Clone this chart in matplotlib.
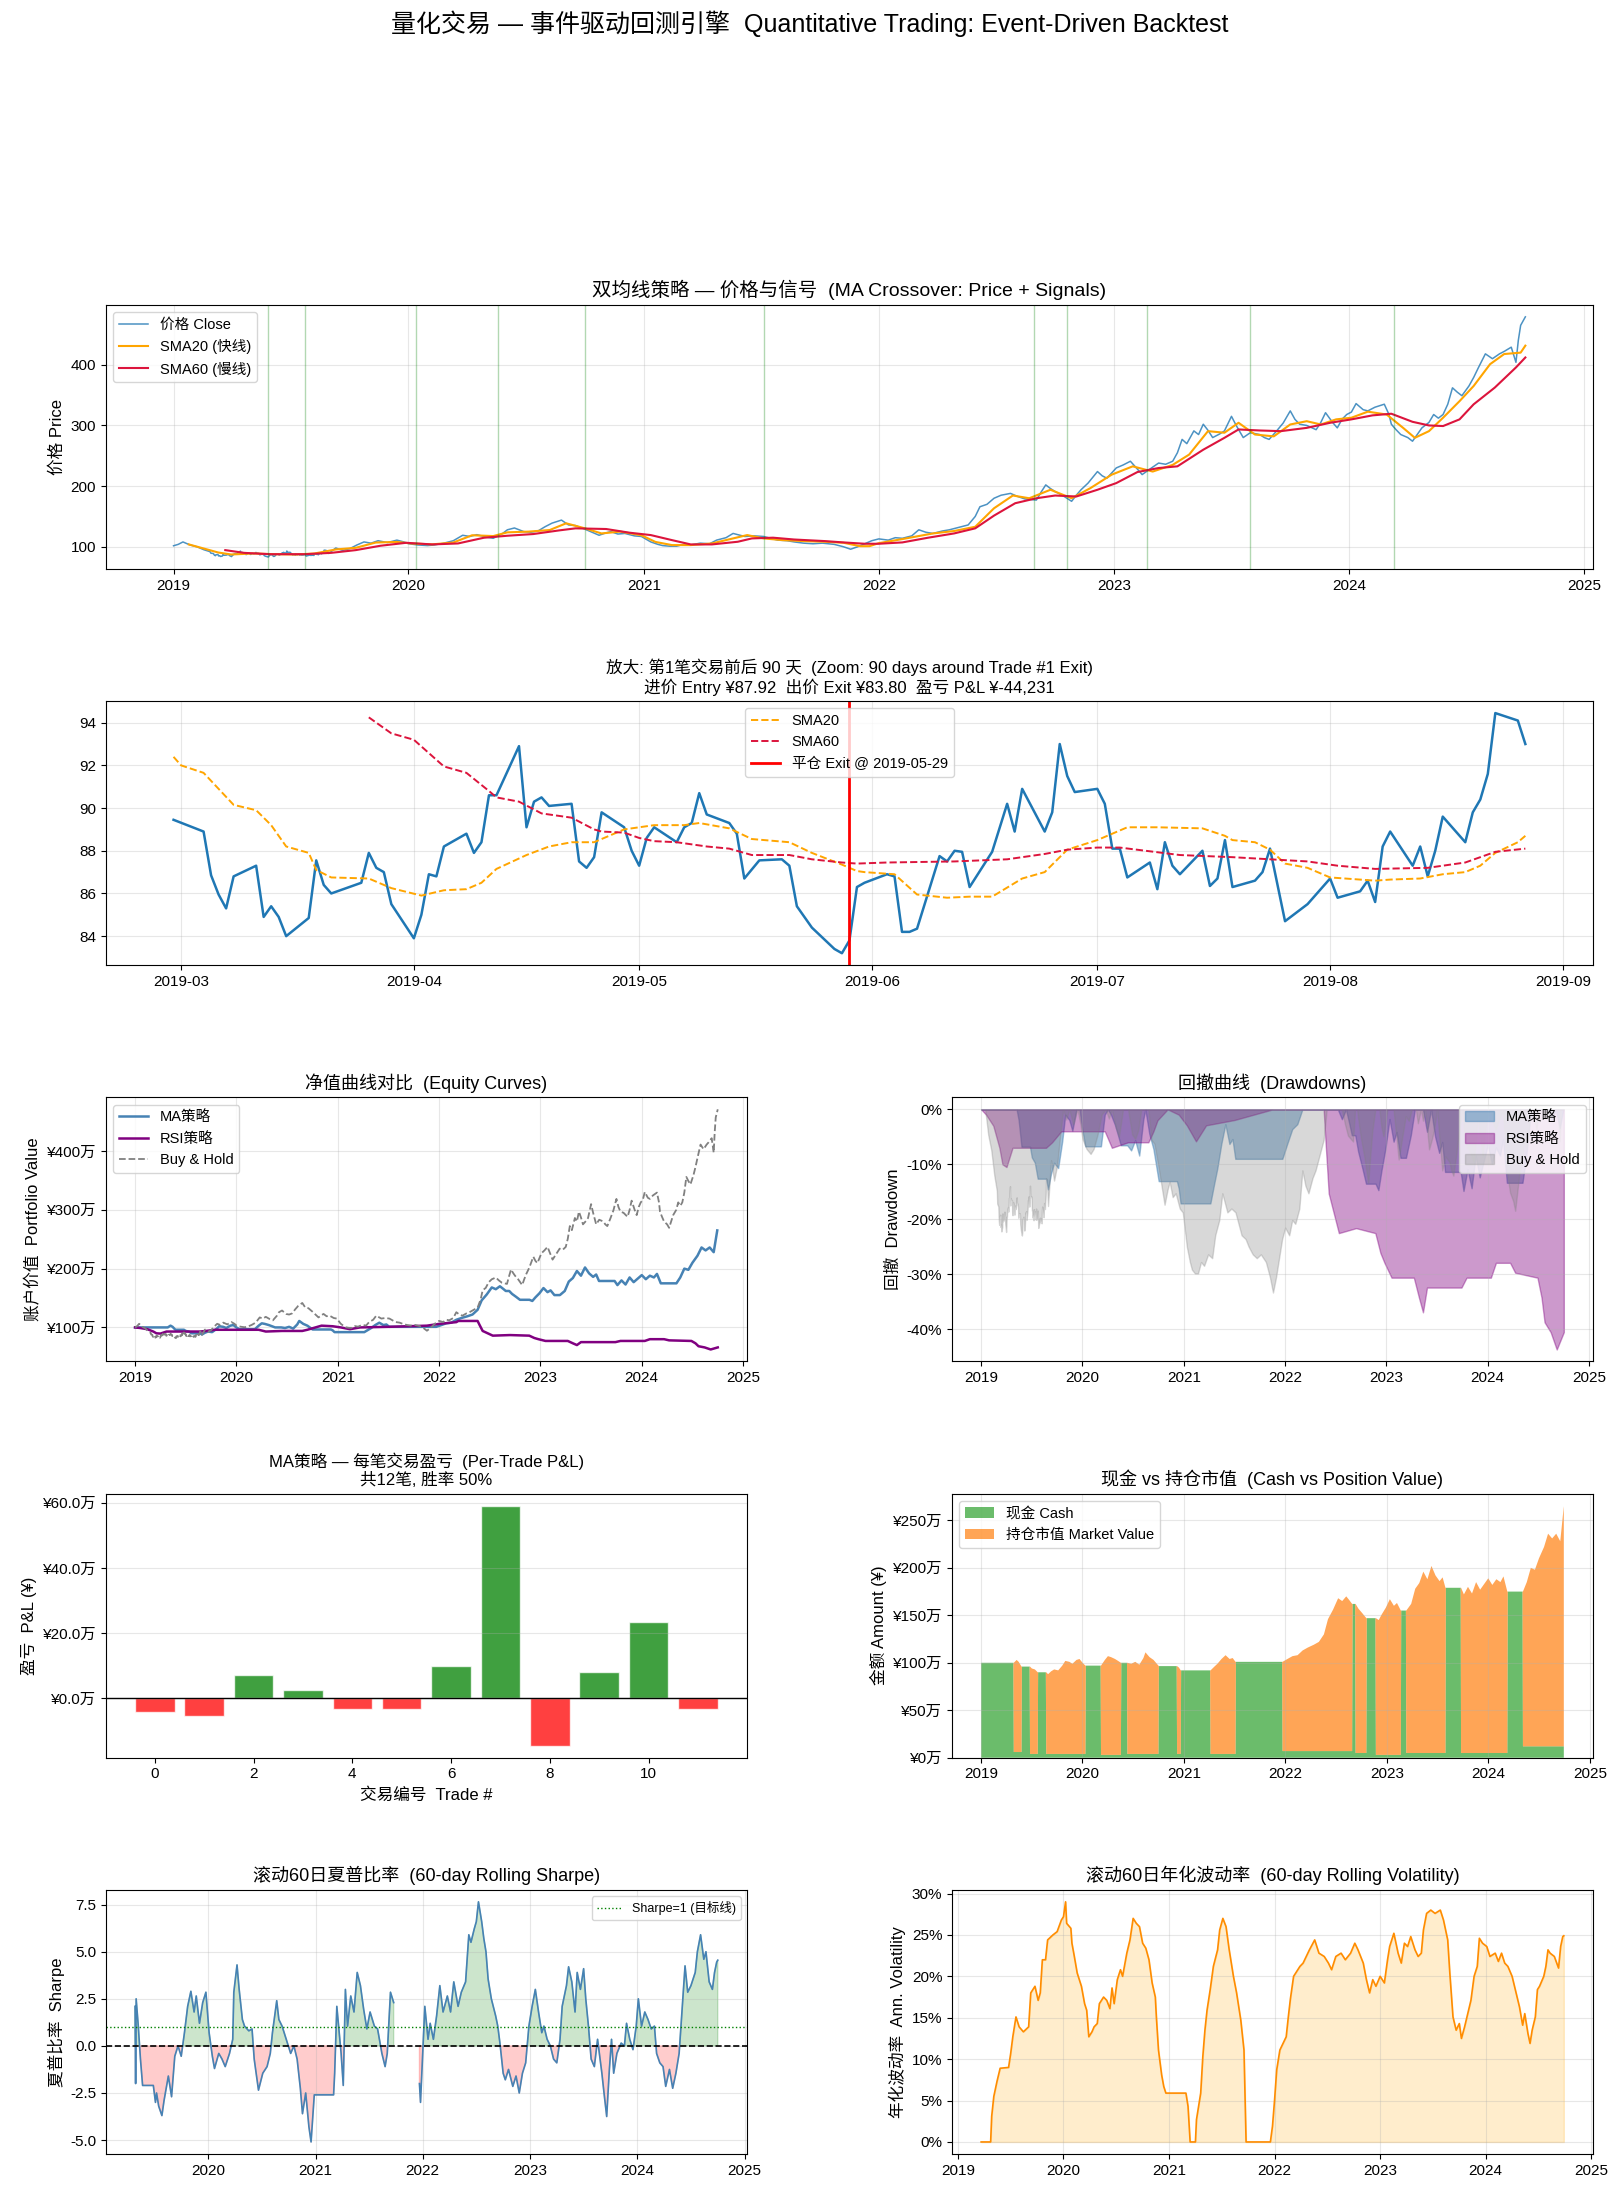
import numpy as np
import pandas as pd
import matplotlib
matplotlib.use('Agg')
import matplotlib.pyplot as plt
import matplotlib.dates as mdates
from matplotlib.ticker import FuncFormatter, MultipleLocator

plt.rcParams['font.family'] = ['Liberation Sans', 'Noto Sans CJK SC']
plt.rcParams['axes.unicode_minus'] = False

# ---------------- data ----------------
# coarse close prices, decimal years (outside the daily zoom window)
price_t = [2019.00, 2019.02, 2019.04, 2019.07, 2019.10, 2019.13, 2019.155,
           2019.66, 2019.69, 2019.72, 2019.75, 2019.78, 2019.81, 2019.84, 2019.87, 2019.91, 2019.95, 2019.98,
           2020.00, 2020.04, 2020.08, 2020.11, 2020.15, 2020.19, 2020.23, 2020.26, 2020.29, 2020.33, 2020.36,
           2020.40, 2020.42, 2020.45, 2020.49, 2020.52, 2020.55, 2020.58, 2020.61, 2020.65, 2020.68, 2020.71,
           2020.75, 2020.78, 2020.81, 2020.84, 2020.86, 2020.89, 2020.92, 2020.96, 2020.99,
           2021.03, 2021.06, 2021.08, 2021.11, 2021.14, 2021.17, 2021.20, 2021.24, 2021.28, 2021.31, 2021.35,
           2021.38, 2021.41, 2021.43, 2021.47, 2021.51, 2021.54, 2021.57, 2021.61, 2021.64, 2021.68, 2021.72,
           2021.76, 2021.81, 2021.85, 2021.88, 2021.91, 2021.94, 2021.97,
           2022.00, 2022.04, 2022.07, 2022.10, 2022.14, 2022.17, 2022.20, 2022.23, 2022.27, 2022.30, 2022.32,
           2022.35, 2022.38, 2022.41, 2022.43, 2022.46, 2022.49, 2022.52, 2022.56, 2022.59, 2022.62, 2022.67,
           2022.69, 2022.71, 2022.73, 2022.75, 2022.78, 2022.82, 2022.84, 2022.86, 2022.89, 2022.93, 2022.95,
           2022.97, 2023.01, 2023.04, 2023.07, 2023.10, 2023.12, 2023.16, 2023.19, 2023.22, 2023.25, 2023.27,
           2023.29, 2023.31, 2023.34, 2023.36, 2023.38, 2023.40, 2023.42, 2023.45, 2023.47, 2023.50, 2023.52,
           2023.55, 2023.58, 2023.62, 2023.64, 2023.66, 2023.69, 2023.72, 2023.75, 2023.77, 2023.79, 2023.82,
           2023.86, 2023.88, 2023.90, 2023.93, 2023.95, 2023.97, 2023.99,
           2024.01, 2024.03, 2024.06, 2024.08, 2024.11, 2024.15, 2024.17, 2024.18, 2024.20, 2024.22, 2024.25,
           2024.27, 2024.29, 2024.31, 2024.34, 2024.36, 2024.38, 2024.40, 2024.42, 2024.44, 2024.46, 2024.48,
           2024.51, 2024.53, 2024.55, 2024.58, 2024.61, 2024.64, 2024.66, 2024.69, 2024.71, 2024.72, 2024.73,
           2024.75]
price_v = [101.7, 104, 108, 103, 100, 95, 92,
           89, 98, 94, 97, 103, 108, 106, 110, 107, 111, 108,
           105, 103, 102, 103, 106, 110, 119, 117, 120, 116, 114,
           122, 128, 131, 125, 124, 126, 133, 139, 144, 136, 135,
           129, 124, 119, 123, 125, 121, 122, 118, 117,
           108, 104, 102, 101, 101, 104, 103, 106, 105, 111, 115,
           122, 119, 117, 118, 117, 114, 111, 110, 108, 106, 105,
           106, 104, 100, 96, 100, 105, 110,
           113, 111, 115, 114, 118, 128, 124, 122, 126, 128, 130,
           133, 136, 150, 166, 170, 180, 185, 188, 183, 179, 177,
           190, 202, 196, 191, 185, 175, 185, 194, 205, 224, 217,
           213, 230, 235, 241, 228, 219, 230, 238, 236, 241, 255,
           277, 270, 291, 285, 302, 292, 280, 286, 291, 315, 300,
           280, 288, 285, 280, 277, 290, 304, 324, 310, 302, 300,
           293, 305, 321, 305, 296, 310, 318,
           322, 336, 326, 324, 330, 335, 318, 302, 293, 285, 280,
           274, 285, 296, 305, 318, 312, 318, 335, 362, 355, 349,
           365, 379, 395, 418, 410, 418, 422, 429, 404, 440, 465,
           479]

# daily closes around trade #1 exit (zoom window)
zoom_dates = ['2019-02-28', '2019-03-04', '2019-03-05', '2019-03-06', '2019-03-07', '2019-03-08',
              '2019-03-11', '2019-03-12', '2019-03-13', '2019-03-14', '2019-03-15', '2019-03-18',
              '2019-03-19', '2019-03-20', '2019-03-21', '2019-03-25', '2019-03-26', '2019-03-27',
              '2019-03-28', '2019-03-29', '2019-04-01', '2019-04-02', '2019-04-03', '2019-04-04',
              '2019-04-05', '2019-04-08', '2019-04-09', '2019-04-10', '2019-04-11', '2019-04-12',
              '2019-04-15', '2019-04-16', '2019-04-17', '2019-04-18', '2019-04-19', '2019-04-22',
              '2019-04-23', '2019-04-24', '2019-04-25', '2019-04-26', '2019-04-29', '2019-04-30',
              '2019-05-01', '2019-05-02', '2019-05-03', '2019-05-06', '2019-05-07', '2019-05-08',
              '2019-05-09', '2019-05-10', '2019-05-13', '2019-05-14', '2019-05-15', '2019-05-17',
              '2019-05-20', '2019-05-21', '2019-05-22', '2019-05-23', '2019-05-24', '2019-05-27',
              '2019-05-28', '2019-05-29', '2019-05-30', '2019-05-31', '2019-06-03', '2019-06-04',
              '2019-06-05', '2019-06-06', '2019-06-07', '2019-06-10', '2019-06-11', '2019-06-12',
              '2019-06-13', '2019-06-14', '2019-06-17', '2019-06-19', '2019-06-20', '2019-06-21',
              '2019-06-24', '2019-06-25', '2019-06-26', '2019-06-27', '2019-06-28', '2019-07-01',
              '2019-07-02', '2019-07-03', '2019-07-04', '2019-07-05', '2019-07-08', '2019-07-09',
              '2019-07-10', '2019-07-11', '2019-07-12', '2019-07-15', '2019-07-16', '2019-07-17',
              '2019-07-18', '2019-07-19', '2019-07-22', '2019-07-23', '2019-07-24', '2019-07-26',
              '2019-07-29', '2019-07-30', '2019-07-31', '2019-08-01', '2019-08-02', '2019-08-05',
              '2019-08-06', '2019-08-07', '2019-08-08', '2019-08-09', '2019-08-12', '2019-08-13',
              '2019-08-14', '2019-08-15', '2019-08-16', '2019-08-19', '2019-08-20', '2019-08-21',
              '2019-08-22', '2019-08-23', '2019-08-26', '2019-08-27']
zoom_close = [89.45, 88.9, 86.85, 85.95, 85.3, 86.8,
              87.3, 84.9, 85.4, 84.9, 84.0, 84.85,
              87.55, 86.4, 86.0, 86.5, 87.9, 87.2,
              87.0, 85.5, 83.9, 85.0, 86.9, 86.8,
              88.2, 88.8, 87.9, 88.4, 90.6, 90.6,
              92.9, 89.1, 90.3, 90.5, 90.1, 90.2,
              87.5, 87.2, 87.7, 89.8, 89.1, 88.0,
              87.3, 88.6, 89.1, 88.4, 89.1, 89.3,
              90.7, 89.7, 89.3, 88.8, 86.7, 87.55,
              87.6, 87.3, 85.4, 84.9, 84.4, 83.4,
              83.2, 83.8, 86.3, 86.5, 86.9, 86.8,
              84.2, 84.2, 84.35, 87.75, 87.5, 88.0,
              87.95, 86.3, 87.95, 90.2, 88.9, 90.9,
              88.9, 89.8, 93.0, 91.5, 90.75, 90.9,
              90.2, 88.1, 88.1, 86.75, 87.45, 86.2,
              88.4, 87.3, 86.9, 88.0, 86.35, 86.7,
              88.5, 86.3, 86.6, 87.0, 88.1, 84.7,
              85.5, 85.9, 86.3, 86.7, 85.8, 86.1,
              86.6, 85.6, 88.2, 88.9, 87.3, 88.2,
              86.8, 88.0, 89.6, 88.4, 89.8, 90.4,
              91.6, 94.45, 94.1, 93.0]

zoom_sma20_dates = ['2019-02-28', '2019-03-01', '2019-03-04', '2019-03-06', '2019-03-08', '2019-03-11',
                    '2019-03-13', '2019-03-15', '2019-03-18', '2019-03-19', '2019-03-21', '2019-03-26',
                    '2019-03-29', '2019-04-02', '2019-04-05', '2019-04-08', '2019-04-10', '2019-04-12',
                    '2019-04-16', '2019-04-19', '2019-04-22', '2019-04-25', '2019-04-29', '2019-05-03',
                    '2019-05-07', '2019-05-09', '2019-05-13', '2019-05-16', '2019-05-21', '2019-05-24',
                    '2019-05-28', '2019-05-30', '2019-05-31', '2019-06-04', '2019-06-07', '2019-06-11',
                    '2019-06-14', '2019-06-17', '2019-06-21', '2019-06-24', '2019-06-27', '2019-07-01',
                    '2019-07-05', '2019-07-09', '2019-07-15', '2019-07-18', '2019-07-19', '2019-07-22',
                    '2019-07-24', '2019-07-26', '2019-07-29', '2019-08-01', '2019-08-05', '2019-08-07',
                    '2019-08-09', '2019-08-13', '2019-08-16', '2019-08-19', '2019-08-21', '2019-08-23',
                    '2019-08-26', '2019-08-27']
zoom_sma20 = [92.4, 92.0, 91.65, 90.9, 90.15, 89.9,
              89.2, 88.2, 87.9, 87.1, 86.75, 86.7,
              86.25, 85.9, 86.15, 86.2, 86.5, 87.15,
              87.8, 88.2, 88.4, 88.4, 89.0, 89.2,
              89.2, 89.3, 89.05, 88.55, 88.4, 87.9,
              87.35, 87.05, 87.0, 86.9, 85.95, 85.8,
              85.85, 85.85, 86.7, 87.0, 88.05, 88.5,
              89.1, 89.1, 89.05, 88.7, 88.5, 88.4,
              88.05, 87.4, 87.2, 86.75, 86.65, 86.6,
              86.65, 86.7, 86.9, 87.0, 87.3, 87.9,
              88.4, 88.7]
zoom_sma60_dates = ['2019-03-26', '2019-03-29', '2019-04-01', '2019-04-05', '2019-04-08', '2019-04-11',
                    '2019-04-12', '2019-04-15', '2019-04-18', '2019-04-19', '2019-04-22', '2019-04-25',
                    '2019-04-26', '2019-04-29', '2019-05-01', '2019-05-03', '2019-05-06', '2019-05-10',
                    '2019-05-13', '2019-05-16', '2019-05-21', '2019-05-24', '2019-05-28', '2019-05-30',
                    '2019-06-03', '2019-06-12', '2019-06-19', '2019-06-24', '2019-06-27', '2019-07-01',
                    '2019-07-04', '2019-07-12', '2019-07-19', '2019-07-24', '2019-07-29', '2019-08-02',
                    '2019-08-07', '2019-08-14', '2019-08-19', '2019-08-23', '2019-08-27']
zoom_sma60 = [94.25, 93.5, 93.2, 91.95, 91.65, 90.8,
              90.5, 90.3, 89.75, 89.7, 89.55, 89.0,
              88.9, 88.85, 88.6, 88.45, 88.4, 88.2,
              88.1, 87.8, 87.8, 87.6, 87.45, 87.4,
              87.45, 87.5, 87.6, 87.85, 88.05, 88.15,
              88.15, 87.8, 87.7, 87.6, 87.5, 87.3,
              87.15, 87.2, 87.45, 87.95, 88.1]
exit1_date = '2019-05-29'

# moving averages over the full period
sma20_t = [2019.065, 2019.13, 2019.19, 2019.245, 2019.34, 2019.43, 2019.52, 2019.60, 2019.69, 2019.775,
           2019.86, 2019.95, 2020.01, 2020.10, 2020.19, 2020.27, 2020.36, 2020.42, 2020.51, 2020.60,
           2020.67, 2020.75, 2020.82, 2020.90, 2020.99, 2021.05, 2021.12, 2021.20, 2021.29, 2021.38,
           2021.44, 2021.51, 2021.59, 2021.68, 2021.77, 2021.85, 2021.92, 2021.96, 2022.00, 2022.10,
           2022.23, 2022.32, 2022.41, 2022.49, 2022.57, 2022.64, 2022.73, 2022.82, 2022.90, 2022.99,
           2023.08, 2023.165, 2023.25, 2023.32, 2023.40, 2023.47, 2023.53, 2023.60, 2023.68, 2023.75,
           2023.82, 2023.88, 2023.945, 2024.01, 2024.08, 2024.16, 2024.23, 2024.28, 2024.34, 2024.40,
           2024.47, 2024.53, 2024.60, 2024.66, 2024.73, 2024.75]
sma20_v = [103.9, 97, 90.6, 87.3, 89, 87.8, 87.3, 89, 95.6, 98.3,
           107, 108, 105.5, 104, 107, 119, 117.7, 123.8, 125, 127.6,
           138.7, 130.4, 122, 125, 119, 108, 102.8, 102.8, 105.5, 113.8,
           119.3, 113.8, 111, 109.4, 108.3, 106.6, 101, 101, 106, 112.7,
           122, 126, 133, 163.5, 184.5, 180, 194, 180, 196.7, 218.8,
           232.6, 224, 235, 252, 290.6, 288, 304.4, 285, 282, 301.6,
           307, 301.6, 310, 312.7, 322.7, 318, 296, 279.6, 290.6, 312.7,
           340, 365, 401, 417.7, 420, 431.5]
sma60_t = [2019.22, 2019.30, 2019.41, 2019.56, 2019.67, 2019.775, 2019.88, 2019.99, 2020.10, 2020.21,
           2020.32, 2020.42, 2020.53, 2020.64, 2020.71, 2020.84, 2020.94, 2021.03, 2021.12, 2021.20,
           2021.29, 2021.40, 2021.46, 2021.55, 2021.64, 2021.77, 2021.85, 2021.94, 2022.00, 2022.10,
           2022.21, 2022.32, 2022.41, 2022.49, 2022.58, 2022.67, 2022.75, 2022.84, 2022.93, 2023.01,
           2023.10, 2023.19, 2023.27, 2023.38, 2023.47, 2023.53, 2023.62, 2023.71, 2023.82, 2023.92,
           2024.01, 2024.10, 2024.18, 2024.27, 2024.34, 2024.40, 2024.47, 2024.53, 2024.62, 2024.71,
           2024.75]
sma60_v = [94.5, 90, 87.8, 87.8, 90, 94.5, 101.7, 106.6, 103.9, 105.5,
           114.9, 118.2, 121, 127, 130.4, 129.3, 123.2, 119.3, 111, 103.9,
           103.9, 108.3, 113.8, 115, 112, 109.4, 107.2, 105, 105, 107.2,
           115, 122, 130.4, 151.4, 171.8, 180, 184.5, 182.9, 194, 205,
           223.2, 229.8, 232.6, 260, 279.6, 293.4, 291.7, 290.6, 296, 304.4,
           310, 316.6, 319.3, 306, 300, 299, 310, 334.8, 362.4, 395.6,
           412]
signal_t = [2019.40, 2019.56, 2020.03, 2020.38, 2020.75, 2021.51,
            2022.66, 2022.80, 2023.14, 2023.58, 2024.19]

# MA strategy: account value and cash (万)
ma_t = [2019.00, 2019.318, 2019.322, 2019.35, 2019.37, 2019.398, 2019.402, 2019.478, 2019.482, 2019.50,
        2019.53, 2019.558, 2019.562, 2019.638, 2019.642, 2019.66, 2019.69, 2019.72, 2019.76, 2019.80,
        2019.83, 2019.87, 2019.90, 2019.94, 2019.97, 2020.00, 2020.028, 2020.032, 2020.178, 2020.182,
        2020.22, 2020.25, 2020.28, 2020.32, 2020.35, 2020.378, 2020.382, 2020.438, 2020.442, 2020.48,
        2020.52, 2020.56, 2020.60, 2020.62, 2020.66, 2020.70, 2020.748, 2020.752, 2020.928, 2020.932,
        2020.95, 2020.968, 2020.972, 2021.258, 2021.262, 2021.30, 2021.33, 2021.37, 2021.41, 2021.45,
        2021.48, 2021.508, 2021.512, 2021.968, 2021.972, 2022.02, 2022.07, 2022.12, 2022.17, 2022.22,
        2022.28, 2022.33, 2022.38, 2022.42, 2022.47, 2022.52, 2022.56, 2022.60, 2022.63, 2022.658,
        2022.662, 2022.688, 2022.692, 2022.72, 2022.76, 2022.798, 2022.802, 2022.888, 2022.892, 2022.92,
        2022.95, 2022.99, 2023.03, 2023.07, 2023.10, 2023.138, 2023.142, 2023.188, 2023.192, 2023.24,
        2023.28, 2023.32, 2023.36, 2023.40, 2023.44, 2023.48, 2023.52, 2023.55, 2023.578, 2023.582,
        2023.728, 2023.732, 2023.76, 2023.80, 2023.84, 2023.88, 2023.92, 2023.96, 2024.00, 2024.04,
        2024.08, 2024.12, 2024.15, 2024.188, 2024.192, 2024.338, 2024.342, 2024.38, 2024.42, 2024.46,
        2024.50, 2024.55, 2024.59, 2024.63, 2024.67, 2024.71, 2024.745]
ma_equity = [100, 100, 100, 103, 101, 96, 96, 96, 96, 94,
             93, 90, 90, 90, 90, 88, 91, 93, 92, 97,
             102, 101, 99, 103, 104, 100, 97, 97, 97, 97,
             103, 107, 106, 104, 102, 100, 100, 100, 100, 99,
             101, 98, 105, 111, 106, 103, 97, 96.5, 96.5, 96.5,
             95, 92, 92, 92, 92, 96, 99, 104, 108, 104,
             105, 101, 101, 101, 101, 104, 107, 108, 113, 116,
             119, 122, 130, 146, 156, 168, 165, 170, 166, 162,
             162, 162, 162, 157, 152, 147, 147, 147, 147, 145,
             151, 158, 167, 160, 163, 155, 155, 155, 155, 162,
             178, 184, 196, 188, 202, 192, 186, 190, 179, 179,
             179, 179, 172, 180, 173, 185, 177, 183, 189, 182,
             188, 185, 191, 175, 175, 175, 175, 185, 200, 198,
             210, 222, 236, 231, 236, 228, 265]
ma_cash = [100, 100, 6, 6, 6, 6, 96, 96, 4, 4,
           4, 4, 90, 90, 4, 4, 4, 4, 4, 4,
           4, 4, 4, 4, 4, 4, 4, 97, 97, 3,
           3, 3, 3, 3, 3, 3, 100, 100, 4, 4,
           4, 4, 4, 4, 4, 4, 4, 96.5, 96.5, 4,
           4, 4, 92, 92, 4, 4, 4, 4, 4, 4,
           4, 4, 101, 101, 7, 7, 7, 7, 7, 7,
           7, 7, 7, 7, 7, 7, 7, 7, 7, 7,
           162, 162, 5, 5, 5, 5, 147, 147, 3, 3,
           3, 3, 3, 3, 3, 3, 155, 155, 5, 5,
           5, 5, 5, 5, 5, 5, 5, 5, 5, 179,
           179, 5, 5, 5, 5, 5, 5, 5, 5, 5,
           5, 5, 5, 5, 175, 175, 12, 12, 12, 12,
           12, 12, 12, 12, 12, 12, 12]

# RSI strategy account value (万)
rsi_t = [2019.00, 2019.05, 2019.12, 2019.18, 2019.21, 2019.25, 2019.31, 2019.64, 2019.70, 2019.79,
         2019.88, 2020.22, 2020.29, 2020.45, 2020.65, 2020.70, 2020.74, 2020.84, 2020.95, 2021.03,
         2021.12, 2021.22, 2021.50, 2021.88, 2022.00, 2022.17, 2022.19, 2022.38, 2022.40, 2022.43,
         2022.48, 2022.53, 2022.70, 2022.89, 2022.94, 2022.98, 2023.05, 2023.27, 2023.32, 2023.36,
         2023.40, 2023.74, 2023.79, 2024.03, 2024.08, 2024.22, 2024.27, 2024.49, 2024.53, 2024.56,
         2024.62, 2024.68, 2024.71, 2024.75]
rsi_equity = [100, 99, 97, 93, 90, 89.5, 93, 93, 94, 96,
              96, 96, 93, 94, 94, 96, 98, 103, 102, 100,
              97, 100, 101, 103, 106, 109, 111, 111, 104, 94,
              90, 86, 87, 86, 82, 80, 77, 77, 73, 70,
              75, 75, 77, 77, 80, 80, 78, 77, 73, 68,
              66, 62.5, 64, 66]

# per-trade P&L (万)
trade_pnl = [-4.3, -5.5, 7.1, 2.5, -3.1, -3.4, 9.8, 59.1, -14.5, 8.0, 23.3, -3.1]

# 60-day rolling Sharpe of MA strategy (NaN while flat)
sharpe_t = [2019.32, 2019.325, 2019.33, 2019.35, 2019.37, 2019.39, 2019.44, 2019.49, 2019.51, 2019.52,
            2019.54, 2019.57, 2019.59, 2019.63, 2019.66, 2019.69, 2019.72, 2019.75, 2019.78, 2019.81,
            2019.84, 2019.87, 2019.89, 2019.92, 2019.95, 2019.98, 2020.01, 2020.04, 2020.06, 2020.10,
            2020.13, 2020.16, 2020.20, 2020.23, 2020.24, 2020.27, 2020.29, 2020.32, 2020.34, 2020.38,
            2020.41, 2020.43, 2020.47, 2020.51, 2020.55, 2020.58, 2020.60, 2020.64, 2020.66, 2020.69,
            2020.74, 2020.77, 2020.80, 2020.83, 2020.86, 2020.88, 2020.91, 2020.94, 2020.96, 2020.99,
            2021.17, 2021.18, 2021.20, 2021.24, 2021.26, 2021.28, 2021.30, 2021.33, 2021.36, 2021.39,
            2021.42, 2021.45, 2021.48, 2021.51, 2021.55, 2021.58, 2021.62, 2021.65, 2021.67, 2021.70,
            2021.73, 2021.85, 2021.97, 2021.98, 2022.00, 2022.02, 2022.05, 2022.07, 2022.10, 2022.13,
            2022.16, 2022.19, 2022.23, 2022.26, 2022.29, 2022.33, 2022.36, 2022.40, 2022.43, 2022.45,
            2022.48, 2022.50, 2022.52, 2022.55, 2022.57, 2022.59, 2022.61, 2022.64, 2022.68, 2022.70,
            2022.72, 2022.75, 2022.77, 2022.80, 2022.84, 2022.87, 2022.90, 2022.93, 2022.96, 2022.99,
            2023.02, 2023.05, 2023.08, 2023.11, 2023.13, 2023.16, 2023.19, 2023.22, 2023.25, 2023.28,
            2023.30, 2023.34, 2023.36, 2023.39, 2023.42, 2023.44, 2023.47, 2023.50, 2023.52, 2023.545,
            2023.57, 2023.60, 2023.63, 2023.67, 2023.69, 2023.715, 2023.74, 2023.76, 2023.78, 2023.81,
            2023.85, 2023.88, 2023.90, 2023.93, 2023.96, 2023.99, 2024.01, 2024.04, 2024.07, 2024.10,
            2024.13, 2024.16, 2024.18, 2024.21, 2024.24, 2024.265, 2024.30, 2024.33, 2024.36, 2024.39,
            2024.42, 2024.445, 2024.47, 2024.50, 2024.54, 2024.56, 2024.59, 2024.62, 2024.64, 2024.67,
            2024.70, 2024.72, 2024.74, 2024.75]
sharpe_v = [2.1, -2.0, 2.5, 1.05, -0.7, -2.1, -2.1, -2.1, -3.0, -2.5,
            -3.2, -3.7, -2.9, -1.6, -2.7, -0.55, 0.0, -0.55, 0.7, 2.1,
            2.9, 1.8, 2.65, 1.2, 2.3, 2.85, 0.7, -0.55, -1.2, -0.4,
            -0.7, -1.1, -0.4, 0.35, 2.85, 4.3, 3.0, 1.4, 1.05, 0.8,
            0.9, -0.7, -2.35, -1.45, -1.1, -0.4, 0.7, 2.4, 1.4, 1.05,
            0.15, -0.4, 0.0, -0.7, -2.25, -3.6, -2.5, -4.3, -5.1, -2.6,
            -2.6, -1.45, 2.1, -0.4, -2.1, 3.0, 1.05, 2.65, 1.8, 3.9,
            3.2, 1.95, 0.9, 1.8, 1.05, 0.9, -0.4, -1.1, -0.4, 2.85,
            2.3, np.nan, -2.0, -3.0, -0.4, 2.1, 0.35, 1.2, 0.35, 1.6,
            3.2, 1.8, 2.65, 1.8, 3.4, 2.1, 2.85, 3.4, 5.9, 5.5,
            6.2, 6.6, 7.65, 6.6, 5.7, 5.0, 3.55, 2.5, 1.6, 1.05,
            0.15, -1.45, -1.8, -1.25, -2.15, -1.6, -2.5, -1.45, -0.9, 1.05,
            2.1, 3.0, 1.8, 0.7, 1.05, 0.35, 0.0, -0.7, -0.9, 0.35,
            2.1, 3.2, 4.2, 3.4, 1.8, 3.9, 3.0, 4.1, 2.5, 1.05,
            -0.7, -1.1, 0.35, -1.45, -2.5, -3.75, -1.25, 0.35, -1.45, -0.4,
            0.15, 0.0, 1.2, 0.35, -0.2, 1.05, 2.5, 1.05, 1.8, 1.4,
            0.9, 1.05, -0.4, -0.9, -1.1, -2.15, -1.25, -2.25, -1.45, -0.4,
            2.1, 4.25, 2.85, 3.2, 3.9, 5.0, 5.9, 4.6, 5.0, 3.4,
            3.0, 3.9, 4.45, 4.55]

# 60-day rolling annualised volatility (%)
vol_t = [2019.22, 2019.31, 2019.32, 2019.34, 2019.37, 2019.40, 2019.48, 2019.50, 2019.52, 2019.55,
         2019.58, 2019.62, 2019.67, 2019.69, 2019.73, 2019.76, 2019.78, 2019.80, 2019.83, 2019.85,
         2019.90, 2019.94, 2019.98, 2020.00, 2020.02, 2020.03, 2020.07, 2020.08, 2020.10, 2020.13,
         2020.17, 2020.20, 2020.22, 2020.24, 2020.27, 2020.29, 2020.32, 2020.34, 2020.38, 2020.41,
         2020.44, 2020.46, 2020.48, 2020.51, 2020.54, 2020.56, 2020.60, 2020.63, 2020.66, 2020.69,
         2020.72, 2020.75, 2020.78, 2020.81, 2020.84, 2020.87, 2020.88, 2020.90, 2020.93, 2020.95,
         2020.97, 2021.16, 2021.18, 2021.20, 2021.25, 2021.26, 2021.30, 2021.32, 2021.34, 2021.36,
         2021.39, 2021.42, 2021.46, 2021.48, 2021.51, 2021.54, 2021.57, 2021.61, 2021.64, 2021.68,
         2021.71, 2021.73, 2021.96, 2021.98, 2022.00, 2022.02, 2022.05, 2022.08, 2022.11, 2022.13,
         2022.15, 2022.18, 2022.21, 2022.24, 2022.27, 2022.30, 2022.33, 2022.38, 2022.42, 2022.47,
         2022.51, 2022.54, 2022.58, 2022.63, 2022.67, 2022.72, 2022.76, 2022.79, 2022.84, 2022.87,
         2022.90, 2022.93, 2022.96, 2023.00, 2023.04, 2023.07, 2023.09, 2023.13, 2023.17, 2023.20,
         2023.23, 2023.26, 2023.29, 2023.33, 2023.36, 2023.39, 2023.41, 2023.44, 2023.48, 2023.52,
         2023.57, 2023.60, 2023.64, 2023.66, 2023.69, 2023.72, 2023.75, 2023.77, 2023.80, 2023.83,
         2023.86, 2023.89, 2023.92, 2023.94, 2023.97, 2024.01, 2024.04, 2024.09, 2024.12, 2024.15,
         2024.18, 2024.21, 2024.25, 2024.28, 2024.32, 2024.35, 2024.37, 2024.40, 2024.42, 2024.44,
         2024.47, 2024.49, 2024.51, 2024.55, 2024.57, 2024.59, 2024.61, 2024.65, 2024.69, 2024.71,
         2024.73, 2024.74]
vol_v = [0, 0, 3.1, 5.5, 7.3, 8.9, 9.0, 10.7, 12.7, 15.1,
         13.9, 13.3, 13.9, 18.0, 18.8, 17.1, 18.0, 22.0, 22.0, 24.4,
         25.0, 25.4, 26.8, 27.2, 29.0, 26.4, 25.8, 24.0, 22.6, 20.4,
         18.8, 16.7, 15.9, 12.7, 13.3, 13.9, 14.3, 16.7, 17.5, 17.1,
         16.1, 18.6, 16.7, 19.6, 20.8, 20.0, 22.8, 24.4, 27.0, 26.4,
         26.0, 24.0, 23.4, 22.0, 19.2, 17.5, 15.1, 11.1, 8.1, 6.7,
         5.9, 5.9, 4.3, 0, 0, 2.7, 5.9, 10.3, 13.5, 15.9,
         18.4, 21.2, 23.2, 25.6, 27.0, 26.0, 23.2, 20.0, 18.0, 14.7,
         11.1, 0, 0, 1.9, 5.1, 8.7, 11.1, 11.9, 12.7, 15.1,
         17.3, 20.0, 20.6, 21.2, 21.6, 22.4, 23.2, 24.4, 22.8, 22.4,
         21.6, 20.8, 22.4, 22.8, 22.0, 22.8, 24.0, 23.2, 21.6, 19.6,
         18.0, 19.6, 18.8, 20.0, 19.2, 22.0, 23.6, 25.2, 22.8, 21.6,
         24.0, 23.6, 24.8, 23.2, 22.4, 22.8, 25.6, 27.6, 28.0, 27.6,
         28.0, 26.8, 24.4, 20.4, 15.1, 13.5, 14.3, 12.5, 13.9, 15.5,
         17.1, 20.0, 21.2, 24.6, 24.0, 23.6, 22.4, 22.8, 21.8, 22.8,
         21.6, 21.2, 20.0, 18.4, 16.3, 14.1, 15.5, 13.1, 11.9, 13.5,
         15.1, 18.4, 18.8, 20.0, 21.2, 23.2, 22.8, 22.4, 21.0, 23.6,
         24.8, 24.9]


def to_dt(years):
    years = np.asarray(years, dtype=float)
    return pd.to_datetime('2019-01-01') + pd.to_timedelta((years - 2019) * 365.25, unit='D')


# full price series = coarse points + daily zoom window
close = pd.concat([pd.Series(price_v, index=to_dt(price_t)),
                   pd.Series(zoom_close, index=pd.to_datetime(zoom_dates))]).sort_index()

ma_x = to_dt(ma_t)
ma_eq = pd.Series(ma_equity, index=ma_x)
rsi_eq = pd.Series(rsi_equity, index=to_dt(rsi_t))
bh_eq = close / close.iloc[0] * 100

wan_fmt = FuncFormatter(lambda v, p: f'¥{v:.0f}万')
pct_fmt = FuncFormatter(lambda v, p: f'{v:.0f}%')
LEG = 10.5
YLAB = 12

# ---------------- figure ----------------
fig = plt.figure(figsize=(16.2, 21.93), dpi=100)
gs = fig.add_gridspec(5, 2, left=0.0654, right=0.9833, top=0.861, bottom=0.0178,
                      hspace=0.5, wspace=0.32)
fig.suptitle('量化交易 — 事件驱动回测引擎  Quantitative Trading: Event-Driven Backtest',
             fontsize=18, y=0.995)

# 1) price + signals
ax1 = fig.add_subplot(gs[0, :])
ax1.plot(close.index, close.values, color='#1f77b4', lw=1.1, alpha=0.8, label='价格 Close')
ax1.plot(to_dt(sma20_t), sma20_v, color='orange', lw=1.5, label='SMA20 (快线)')
ax1.plot(to_dt(sma60_t), sma60_v, color='crimson', lw=1.5, label='SMA60 (慢线)')
for d in to_dt(signal_t):
    ax1.axvline(d, color='green', alpha=0.3, lw=1)
ax1.yaxis.set_major_locator(MultipleLocator(100))
ax1.set_title('双均线策略 — 价格与信号  (MA Crossover: Price + Signals)', fontsize=14)
ax1.set_ylabel('价格 Price', fontsize=YLAB)
ax1.legend(loc='upper left', fontsize=LEG)
ax1.grid(alpha=0.3)

# 2) zoom around trade #1 exit
ax2 = fig.add_subplot(gs[1, :])
ax2.plot(pd.to_datetime(zoom_dates), zoom_close, color='#1f77b4', lw=1.8)
ax2.plot(pd.to_datetime(zoom_sma20_dates), zoom_sma20, color='orange', ls='--', lw=1.4, label='SMA20')
ax2.plot(pd.to_datetime(zoom_sma60_dates), zoom_sma60, color='crimson', ls='--', lw=1.4, label='SMA60')
ax2.axvline(pd.Timestamp(exit1_date), color='red', lw=2, label=f'平仓 Exit @ {exit1_date}')
ax2.set_title('放大: 第1笔交易前后 90 天  (Zoom: 90 days around Trade #1 Exit)\n'
              '进价 Entry ¥87.92  出价 Exit ¥83.80  盈亏 P&L ¥-44,231', fontsize=12)
ax2.xaxis.set_major_locator(mdates.MonthLocator())
ax2.xaxis.set_major_formatter(mdates.DateFormatter('%Y-%m'))
ax2.legend(loc='upper center', fontsize=LEG)
ax2.grid(alpha=0.3)

# 3) equity curves
ax3 = fig.add_subplot(gs[2, 0])
ax3.plot(ma_eq.index, ma_eq.values, color='steelblue', lw=1.8, label='MA策略')
ax3.plot(rsi_eq.index, rsi_eq.values, color='purple', lw=1.8, label='RSI策略')
ax3.plot(bh_eq.index, bh_eq.values, color='gray', ls='--', lw=1.3, label='Buy & Hold')
ax3.yaxis.set_major_formatter(wan_fmt)
ax3.set_title('净值曲线对比  (Equity Curves)', fontsize=13)
ax3.set_ylabel('账户价值  Portfolio Value', fontsize=YLAB)
ax3.legend(loc='upper left', fontsize=LEG)
ax3.grid(alpha=0.3)

# 4) drawdowns
ax4 = fig.add_subplot(gs[2, 1])
for eq, col, a, lab in [(ma_eq, 'steelblue', 0.5, 'MA策略'),
                        (rsi_eq, 'purple', 0.4, 'RSI策略'),
                        (bh_eq, 'gray', 0.3, 'Buy & Hold')]:
    dd = (eq / eq.cummax() - 1) * 100
    ax4.fill_between(dd.index, dd.values, 0, color=col, alpha=a, label=lab)
ax4.yaxis.set_major_formatter(pct_fmt)
ax4.set_title('回撤曲线  (Drawdowns)', fontsize=13)
ax4.set_ylabel('回撤  Drawdown', fontsize=YLAB)
ax4.legend(loc='upper right', fontsize=LEG)
ax4.grid(alpha=0.3)

# 5) per-trade P&L
ax5 = fig.add_subplot(gs[3, 0])
bar_cols = ['green' if v > 0 else 'red' for v in trade_pnl]
ax5.bar(range(len(trade_pnl)), trade_pnl, color=bar_cols, alpha=0.75, edgecolor='white')
ax5.axhline(0, color='black', lw=1)
ax5.yaxis.set_major_formatter(FuncFormatter(lambda v, p: f'¥{v:.1f}万'))
ax5.set_yticks([0, 20, 40, 60])
ax5.set_title('MA策略 — 每笔交易盈亏  (Per-Trade P&L)\n'
              f'共{len(trade_pnl)}笔, 胜率 {100 * np.mean(np.array(trade_pnl) > 0):.0f}%', fontsize=12)
ax5.set_xlabel('交易编号  Trade #', fontsize=YLAB)
ax5.set_ylabel('盈亏  P&L (¥)', fontsize=YLAB)
ax5.grid(alpha=0.3, axis='y')

# 6) cash vs position value
ax6 = fig.add_subplot(gs[3, 1])
pos_val = np.array(ma_equity) - np.array(ma_cash)
ax6.stackplot(ma_x, ma_cash, pos_val, colors=['#2ca02c', '#ff7f0e'], alpha=0.7,
              labels=['现金 Cash', '持仓市值 Market Value'])
ax6.yaxis.set_major_formatter(wan_fmt)
ax6.set_yticks([0, 50, 100, 150, 200, 250])
ax6.set_title('现金 vs 持仓市值  (Cash vs Position Value)', fontsize=13)
ax6.set_ylabel('金额 Amount (¥)', fontsize=YLAB)
ax6.legend(loc='upper left', fontsize=LEG)
ax6.grid(alpha=0.3)

# 7) rolling sharpe
ax7 = fig.add_subplot(gs[4, 0])
sx = to_dt(sharpe_t)
sv = np.array(sharpe_v)
ax7.plot(sx, sv, color='steelblue', lw=1.2)
ax7.fill_between(sx, sv, 0, where=sv >= 0, color='green', alpha=0.2, interpolate=True)
ax7.fill_between(sx, sv, 0, where=sv < 0, color='red', alpha=0.2, interpolate=True)
ax7.axhline(0, color='black', ls='--', lw=1.2)
ax7.axhline(1, color='green', ls=':', lw=1, label='Sharpe=1 (目标线)')
ax7.set_yticks([-5, -2.5, 0, 2.5, 5, 7.5])
ax7.set_title('滚动60日夏普比率  (60-day Rolling Sharpe)', fontsize=13)
ax7.set_ylabel('夏普比率  Sharpe', fontsize=YLAB)
ax7.legend(loc='upper right', fontsize=9)
ax7.grid(alpha=0.3)

# 8) rolling volatility
ax8 = fig.add_subplot(gs[4, 1])
vx = to_dt(vol_t)
ax8.plot(vx, vol_v, color='darkorange', lw=1.2)
ax8.fill_between(vx, vol_v, 0, color='orange', alpha=0.2)
ax8.yaxis.set_major_formatter(pct_fmt)
ax8.set_title('滚动60日年化波动率  (60-day Rolling Volatility)', fontsize=13)
ax8.set_ylabel('年化波动率  Ann. Volatility', fontsize=YLAB)
ax8.grid(alpha=0.3)

for ax in [ax1, ax2, ax3, ax4, ax5, ax6, ax7, ax8]:
    ax.tick_params(labelsize=11)

fig.savefig('out.png', dpi=100)
